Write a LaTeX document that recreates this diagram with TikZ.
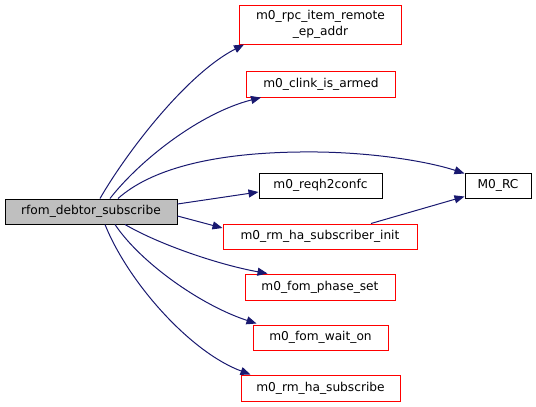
\documentclass[tikz,border=0pt]{standalone}
\usepackage{fontspec}
\setmainfont{DejaVu Sans}
\usetikzlibrary{arrows.meta}
\definecolor{edgeblue}{HTML}{191970}
\definecolor{boxgray}{HTML}{BFBFBF}
\tikzset{
  fn/.style={draw=red, line width=1pt, fill=white, inner sep=0pt, align=center, font=\fontsize{12.2}{16}\selectfont},
  fnblack/.style={fn, draw=black},
  fnroot/.style={fn, draw=black, fill=boxgray},
  edge/.style={draw=edgeblue, line width=1pt, -{Triangle[length=10pt,width=8pt]}},
}
\begin{document}
\begin{tikzpicture}[x=1pt,y=-1pt]
\useasboundingbox (0,0) rectangle (536,407);
\node[fnroot, minimum width=172pt, minimum height=25pt] (src) at (91,211.5) {rfom\_debtor\_subscribe};
\node[fn, minimum width=162pt, minimum height=39pt] (rpc) at (320.5,24.5) {m0\_rpc\_item\_remote\\\_ep\_addr};
\node[fn, minimum width=149pt, minimum height=26pt] (clink) at (321,84) {m0\_clink\_is\_armed};
\node[fnblack, minimum width=66pt, minimum height=25pt] (rc) at (498,185.5) {M0\_RC};
\node[fnblack, minimum width=123pt, minimum height=25pt] (reqh) at (320.5,185.5) {m0\_reqh2confc};
\node[fn, minimum width=194pt, minimum height=25pt] (init) at (320,236.5) {m0\_rm\_ha\_subscriber\_init};
\node[fn, minimum width=150pt, minimum height=26pt] (phase) at (320,287) {m0\_fom\_phase\_set};
\node[fn, minimum width=135pt, minimum height=25pt] (wait) at (320.5,337.5) {m0\_fom\_wait\_on};
\node[fn, minimum width=159pt, minimum height=26pt] (sub) at (320.5,388) {m0\_rm\_ha\_subscribe};

\draw[edge] ([xshift=9pt]src.north) .. controls (125,155) and (185,75) .. ([xshift=5pt]rpc.south west);
\draw[edge] ([xshift=19pt]src.north) .. controls (140,160) and (200,113) .. ([xshift=15pt]clink.south west);
\draw[edge] ([xshift=27pt]src.north) .. controls (150,170) and (210,153) .. (300,152) .. controls (370,151) and (430,162) .. ([yshift=-1pt]rc.north west);
\draw[edge] ([yshift=7.5pt]src.east) -- ([yshift=-6.5pt]reqh.west);
\draw[edge] ([yshift=-4.5pt]src.east) -- ([yshift=8.5pt]init.west);
\draw[edge] ([xshift=51pt]init.north) -- ([yshift=2pt]rc.south west);
\draw[edge] ([xshift=34pt]src.south) .. controls (160,245) and (220,265) .. ([xshift=23pt]phase.north west);
\draw[edge] ([xshift=24pt]src.south) .. controls (140,262) and (200,305) .. ([xshift=4pt,yshift=1pt]wait.north west);
\draw[edge] ([xshift=14pt]src.south) .. controls (128,282) and (190,352) .. ([xshift=10pt]sub.north west);
\end{tikzpicture}
\end{document}
